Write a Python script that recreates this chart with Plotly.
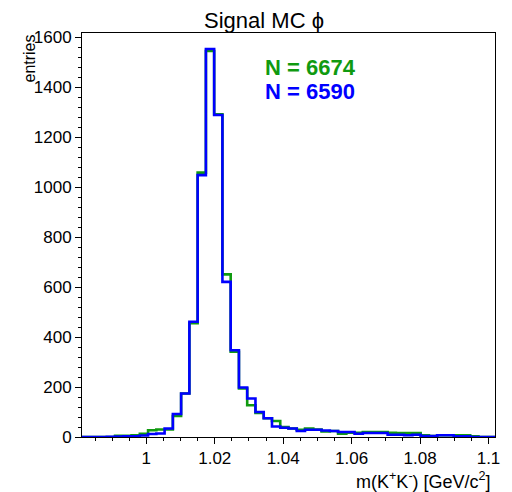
import numpy as np
import plotly.graph_objects as go

# Histogram definition (50 bins)
x_lo, x_hi, n_bins = 0.9812, 1.1019, 50

green_counts = [0, 0, 0, 0, 5, 5, 7, 13, 27, 30,
                30, 84, 174, 455, 1058, 1545, 1292, 651, 341, 194,
                127, 96, 75, 64, 40, 34, 29, 34, 30, 22,
                24, 13, 17, 17, 20, 20, 20, 17, 16, 16,
                16, 7, 4, 7, 7, 7, 7, 3, 0, 0]
blue_counts = [0, 0, 0, 1, 2, 3, 3, 6, 12, 14,
               34, 92, 174, 461, 1048, 1553, 1289, 621, 347, 198,
               154, 100, 75, 42, 37, 34, 24, 29, 29, 26,
               24, 20, 20, 13, 16, 16, 16, 9, 9, 7,
               9, 4, 4, 7, 7, 3, 3, 0, 0, 0]

labels = ["N = 6674", "N = 6590"]
colors = ["#109a10", "#0000ff"]
x_ticks = [1.0, 1.02, 1.04, 1.06, 1.08, 1.1]
x_tick_text = ["1", "1.02", "1.04", "1.06", "1.08", "1.1"]
y_ticks = [0, 200, 400, 600, 800, 1000, 1200, 1400, 1600]

edges = np.linspace(x_lo, x_hi, n_bins + 1)

fig = go.Figure()
for counts, col in zip([green_counts, blue_counts], colors):
    yv = list(counts) + [counts[-1]]
    fig.add_trace(go.Scatter(x=edges, y=yv, mode="lines",
                             line=dict(color=col, width=2.6, shape="hv"),
                             showlegend=False, hoverinfo="skip"))

font = "Liberation Sans, Arial, Helvetica, sans-serif"
fig.update_layout(
    width=512, height=492,
    margin=dict(l=82, r=13, t=33, b=55),
    paper_bgcolor="white", plot_bgcolor="white",
    font=dict(family=font, size=17, color="black"),
    title=dict(text="Signal MC ϕ", x=264/512, xref="container", xanchor="center",
               y=1 - 20/492, yref="container", yanchor="middle",
               font=dict(size=22, family=font, color="black")),
)
fig.update_xaxes(range=[x_lo, x_hi], showgrid=False, zeroline=False,
                 showline=True, linecolor="black", linewidth=1, mirror=True,
                 ticks="outside", ticklen=6, tickwidth=1, tickcolor="black",
                 tickvals=x_ticks, ticktext=x_tick_text,
                 minor=dict(ticks="outside", ticklen=3, dtick=0.005, tick0=1.0, tickcolor="black"),
                 tickfont=dict(size=17))
fig.update_yaxes(range=[0, 1617], showgrid=False, zeroline=False,
                 showline=True, linecolor="black", linewidth=1, mirror=True,
                 ticks="outside", ticklen=6, tickwidth=1, tickcolor="black",
                 tickvals=y_ticks,
                 minor=dict(ticks="outside", ticklen=3, dtick=40, tick0=0, tickcolor="black"),
                 tickfont=dict(size=17))

# axis titles
fig.add_annotation(text="m(K<sup>+</sup>K<sup>-</sup>) [GeV/c<sup>2</sup>]",
                   xref="paper", yref="paper", x=(497-82)/417, y=-(480-437)/404,
                   xanchor="right", yanchor="middle", showarrow=False,
                   font=dict(size=18, family=font, color="black"))
fig.add_annotation(text="entries", xref="paper", yref="paper",
                   x=-(82-28)/417, y=1.0, xanchor="center", yanchor="top",
                   textangle=-90, showarrow=False,
                   font=dict(size=16, family=font, color="black"))
# N labels
for i, (lab, col) in enumerate(zip(labels, colors)):
    fig.add_annotation(text="<b>%s</b>" % lab, xref="paper", yref="paper",
                       x=(265-82)/417, y=(437-(68 + 23*i))/404,
                       xanchor="left", yanchor="middle", showarrow=False,
                       font=dict(size=22, family=font, color=col))

fig.write_html("out.html")
